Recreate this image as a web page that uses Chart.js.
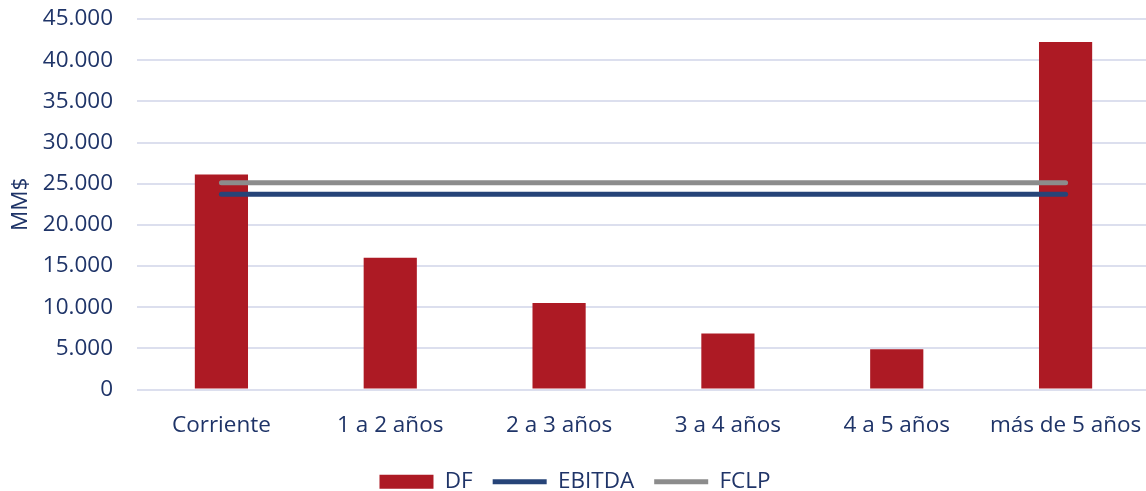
<!DOCTYPE html>
<html>
<head>
<meta charset="utf-8">
<script src="https://cdn.jsdelivr.net/npm/chart.js@4"></script>
<style>
  html, body { margin: 0; padding: 0; background: #fff; overflow: hidden; }
  #wrap { width: 1150px; height: 491px; }
</style>
</head>
<body>
<div id="wrap"><canvas id="chart"></canvas></div>
<script>
// categorías
const labels = ["Corriente", "1 a 2 años", "2 a 3 años", "3 a 4 años", "4 a 5 años", "más de 5 años"];
// deuda financiera
const df = [26100, 16000, 10500, 6800, 4900, 42200];
// EBITDA, FCLP (constantes)
const ebitda = [23700, 23700, 23700, 23700, 23700, 23700];
const fclp = [25100, 25100, 25100, 25100, 25100, 25100];
const yTicks = [0, 5000, 10000, 15000, 20000, 25000, 30000, 35000, 40000, 45000];

const navy = "#1f3468";
const fontFamily = "'Open Sans', sans-serif";
const fontSize = 22.5;

const ctx = document.getElementById("chart").getContext("2d");
new Chart(ctx, {
  type: "bar",
  data: {
    labels: labels,
    datasets: [
      {
        label: "DF",
        data: df,
        backgroundColor: "#ad1a24",
        borderWidth: 0,
        barPercentage: 0.315,
        categoryPercentage: 1,
        pointStyle: "rect",
        order: 2,
      },
      {
        label: "EBITDA",
        data: ebitda,
        type: "line",
        borderColor: "#264478",
        backgroundColor: "#264478",
        borderWidth: 5,
        borderCapStyle: "round",
        pointRadius: 0,
        pointStyle: "line",
        order: 1,
      },
      {
        label: "FCLP",
        data: fclp,
        type: "line",
        borderColor: "#8c8c8c",
        backgroundColor: "#8c8c8c",
        borderWidth: 5,
        borderCapStyle: "round",
        pointRadius: 0,
        pointStyle: "line",
        order: 1,
      },
    ],
  },
  options: {
    responsive: true,
    maintainAspectRatio: false,
    animation: false,
    layout: { padding: { left: 0, right: 0, top: 19, bottom: -12 } },
    plugins: {
      tooltip: { enabled: false },
      legend: {
        position: "bottom",
        labels: {
          usePointStyle: true,
          pointStyleWidth: 54,
          boxHeight: 14,
          padding: 20,
          color: navy,
          font: { family: fontFamily, size: fontSize },
          sort: (a, b) => a.datasetIndex - b.datasetIndex,
        },
      },
    },
    scales: {
      x: {
        grid: { display: false },
        border: { display: false },
        ticks: {
          color: navy,
          padding: 15,
          font: { family: fontFamily, size: fontSize },
        },
        afterFit: (axis) => {
          axis.height = 61;
          axis.paddingLeft = 0;
          axis.paddingRight = 0;
        },
      },
      y: {
        min: 0,
        max: 45000,
        afterBuildTicks: (axis) => {
          axis.ticks = yTicks.map((v) => ({ value: v }));
        },
        afterFit: (axis) => {
          axis.width = 137;
          axis.paddingTop = 0;
          axis.paddingBottom = 0;
        },
        grid: { color: "#dcdfee", lineWidth: 2, drawTicks: false },
        border: { display: false },
        ticks: {
          color: navy,
          padding: 24,
          font: { family: fontFamily, size: fontSize },
          callback: (v) => v.toLocaleString("de-DE"),
        },
        title: {
          display: true,
          text: "MM$",
          color: navy,
          padding: { top: 7, bottom: 0 },
          font: { family: fontFamily, size: fontSize },
        },
      },
    },
  },
});
</script>
</body>
</html>
